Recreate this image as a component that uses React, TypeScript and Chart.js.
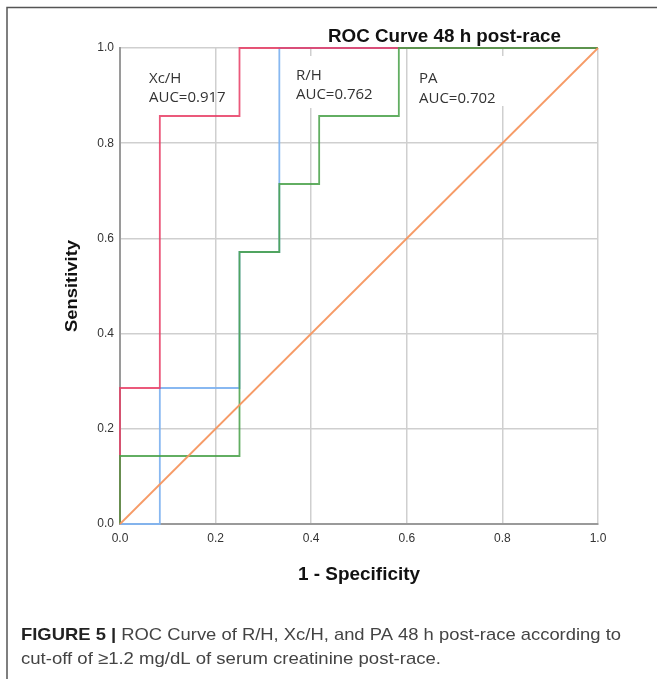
import React, { useEffect, useRef } from "react";
import { Chart, registerables } from "chart.js";

Chart.register(...registerables);

// ---- data (false positive rate = 1 - specificity, true positive rate = sensitivity)
const xcH_fpr = [0, 0, 1 / 12, 1 / 12, 0.25, 0.25, 1];
const xcH_tpr = [0, 2 / 7, 2 / 7, 6 / 7, 6 / 7, 1, 1];

const rH_fpr = [0, 1 / 12, 1 / 12, 0.25, 0.25, 1 / 3, 1 / 3, 1];
const rH_tpr = [0, 0, 2 / 7, 2 / 7, 4 / 7, 4 / 7, 1, 1];

const pa_fpr = [0, 0, 0.25, 0.25, 1 / 3, 1 / 3, 5 / 12, 5 / 12, 7 / 12, 7 / 12, 1];
const pa_tpr = [0, 1 / 7, 1 / 7, 4 / 7, 4 / 7, 5 / 7, 5 / 7, 6 / 7, 6 / 7, 1, 1];

const ref_fpr = [0, 1];
const ref_tpr = [0, 1];

const tickValues = [0, 0.2, 0.4, 0.6, 0.8, 1.0];

const seriesLabels = ["Xc/H", "R/H", "PA"];
const aucValues = ["0.917", "0.762", "0.702"];

const chartTitle = "ROC Curve 48 h post-race";
const xTitle = "1 - Specificity";
const yTitle = "Sensitivity";
const captionBold = "FIGURE 5 | ";
const captionLine1 = "ROC Curve of R/H, Xc/H, and PA 48 h post-race according to";
const captionLine2 = "cut-off of \u22651.2 mg/dL of serum creatinine post-race.";

const toPoints = (xs: number[], ys: number[]) => xs.map((x, i) => ({ x, y: ys[i] }));

function fitText(ctx: CanvasRenderingContext2D, text: string, x: number, y: number, width: number) {
  const w = ctx.measureText(text).width;
  ctx.save();
  ctx.translate(x, y);
  ctx.scale(width / w, 1);
  ctx.fillText(text, 0, 0);
  ctx.restore();
}

const decorPlugin = {
  id: "decor",
  beforeDatasetsDraw(chart: any) {
    const ctx = chart.ctx as CanvasRenderingContext2D;
    const a = chart.chartArea;
    ctx.save();
    // white boxes behind R/H and PA labels
    ctx.fillStyle = "#ffffff";
    ctx.fillRect(a.left + 170, a.top + 8, 90, 52);
    ctx.fillRect(a.left + 292, a.top + 8, 96, 50);
    ctx.fillStyle = "#333333";
    ctx.font = '15px "Open Sans"';
    ctx.textBaseline = "alphabetic";
    ctx.textAlign = "left";
    const pos = [
      [a.left + 29, a.top + 35, a.top + 54],
      [a.left + 176, a.top + 32, a.top + 51],
      [a.left + 299, a.top + 35, a.top + 55],
    ];
    seriesLabels.forEach((s, i) => {
      ctx.fillText(s, pos[i][0], pos[i][1]);
      ctx.fillText("AUC=" + aucValues[i], pos[i][0], pos[i][2]);
    });
    ctx.restore();
  },
  afterDraw(chart: any) {
    const ctx = chart.ctx as CanvasRenderingContext2D;
    const a = chart.chartArea;
    ctx.save();
    // frame
    ctx.strokeStyle = "#555555";
    ctx.lineWidth = 1.5;
    ctx.beginPath();
    ctx.moveTo(7, 679);
    ctx.lineTo(7, 7.5);
    ctx.lineTo(657, 7.5);
    ctx.stroke();

    ctx.fillStyle = "#111111";
    ctx.textBaseline = "alphabetic";
    // title
    ctx.font = 'bold 18px "Liberation Sans", Arial';
    fitText(ctx, chartTitle, a.left + 208, 42, 233);
    // x title
    ctx.font = 'bold 18px "Liberation Sans", Arial';
    fitText(ctx, xTitle, (a.left + a.right) / 2 - 61, 580, 122);
    // y title
    ctx.save();
    ctx.translate(77, (a.top + a.bottom) / 2 + 46);
    ctx.rotate(-Math.PI / 2);
    ctx.font = 'bold 17px "Liberation Sans", Arial';
    fitText(ctx, yTitle, 0, 0, 92);
    ctx.restore();

    // caption
    ctx.fillStyle = "#333333";
    ctx.font = 'bold 17px "Liberation Sans", Arial';
    const wb = ctx.measureText(captionBold).width;
    ctx.font = '17px "Liberation Sans", Arial';
    const wr = ctx.measureText(captionLine1).width;
    const sc = 600 / (wb + wr);
    ctx.save();
    ctx.translate(21, 640);
    ctx.scale(sc, 1);
    ctx.font = 'bold 17px "Liberation Sans", Arial';
    ctx.fillStyle = "#222222";
    ctx.fillText(captionBold, 0, 0);
    ctx.font = '17px "Liberation Sans", Arial';
    ctx.fillStyle = "#444444";
    ctx.fillText(captionLine1, wb, 0);
    ctx.restore();
    ctx.fillStyle = "#444444";
    fitText(ctx, captionLine2, 21, 664, 420);
    ctx.restore();
  },
};

export default function App() {
  const ref = useRef<HTMLCanvasElement | null>(null);
  useEffect(() => {
    if (!ref.current) return;
    const lw = 1.8;
    const common = { pointRadius: 0, borderWidth: lw, fill: false, tension: 0, clip: 4 };
    const chart = new Chart(ref.current, {
      type: "line",
      data: {
        datasets: [
          { ...common, label: "Reference", data: toPoints(ref_fpr, ref_tpr), borderColor: "rgba(245,150,95,0.95)", order: 0 },
          { ...common, label: "PA", data: toPoints(pa_fpr, pa_tpr), borderColor: "rgba(70,160,70,0.85)", order: 1 },
          { ...common, label: "Xc/H", data: toPoints(xcH_fpr, xcH_tpr), borderColor: "rgba(232,60,100,0.85)", order: 2 },
          { ...common, label: "R/H", data: toPoints(rH_fpr, rH_tpr), borderColor: "rgba(130,180,240,0.95)", order: 3 },
        ],
      },
      options: {
        animation: false,
        responsive: false,
        maintainAspectRatio: false,
        layout: { padding: { left: 0, top: 48, right: 59, bottom: 95 } },
        plugins: {
          legend: { display: false },
          tooltip: { enabled: false },
          title: { display: false },
        },
        scales: {
          x: {
            type: "linear",
            min: 0,
            max: 1,
            afterFit: (s: any) => {
              s.height = 60;
            },
            afterBuildTicks: (s: any) => {
              s.ticks = tickValues.map((v) => ({ value: v }));
            },
            ticks: {
              callback: (v: any) => Number(v).toFixed(1),
              padding: 7,
              color: "#333333",
              font: { family: '"Liberation Sans", Arial', size: 12 },
              maxRotation: 0,
            },
            grid: { color: "#cfcfcf", lineWidth: 1.5, drawTicks: false },
            border: { color: "#9a9a9a", width: 2 },
          },
          y: {
            type: "linear",
            min: 0,
            max: 1,
            afterFit: (s: any) => {
              s.width = 120;
            },
            afterBuildTicks: (s: any) => {
              s.ticks = tickValues.map((v) => ({ value: v }));
            },
            ticks: {
              callback: (v: any) => Number(v).toFixed(1),
              padding: 6,
              color: "#333333",
              font: { family: '"Liberation Sans", Arial', size: 12 },
            },
            grid: { color: "#cfcfcf", lineWidth: 1.5, drawTicks: false },
            border: { color: "#9a9a9a", width: 2 },
          },
        },
      },
      plugins: [decorPlugin],
    } as any);
    return () => chart.destroy();
  }, []);
  return (
    <div style={{ position: "absolute", left: 0, top: 0, width: 657, height: 679, background: "#fff" }}>
      <canvas ref={ref} width={657} height={679} style={{ width: 657, height: 679, display: "block" }} />
    </div>
  );
}
